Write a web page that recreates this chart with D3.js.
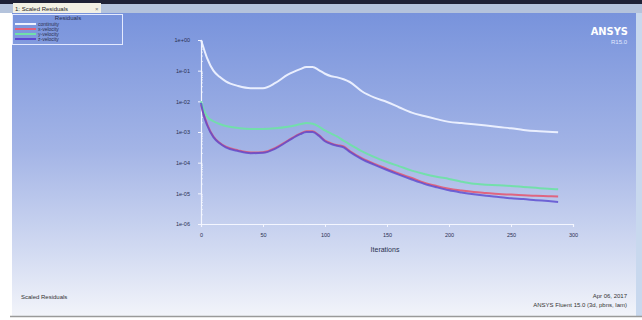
<!DOCTYPE html>
<html>
<head>
<meta charset="utf-8">
<script src="https://cdn.jsdelivr.net/npm/d3@7"></script>
<style>
  body { margin: 0; background: #fff; }
  svg { display: block; font-family: "Liberation Sans", Arial, sans-serif; }
</style>
</head>
<body>
<svg id="chart" width="642" height="320"></svg>
<script>
const iterations = [0, 2, 5, 10, 15, 20, 30, 40, 50, 60, 70, 80, 85, 90, 95, 100, 105, 110, 115, 120,
  130, 140, 150, 160, 170, 180, 190, 200, 210, 220, 230, 240, 250, 260, 270, 280, 288];

const continuity = [1.0, 0.562, 0.251, 0.1, 0.0631, 0.0447, 0.0316, 0.0269, 0.0269, 0.0398, 0.0741, 0.112,
  0.132, 0.132, 0.105, 0.0794, 0.0661, 0.0603, 0.0525, 0.0427, 0.0209, 0.0132, 0.00955, 0.00631, 0.00427,
  0.00331, 0.00263, 0.00214, 0.00195, 0.00178, 0.00162, 0.00145, 0.00132, 0.00117, 0.00107, 0.00102, 0.00098];

const xVelocity = [0.00794, 0.00398, 0.00178, 7.1e-4, 4.47e-4, 3.31e-4, 2.51e-4, 2.14e-4, 2.19e-4, 3.02e-4,
  5.25e-4, 8.9e-4, 1.05e-3, 1.05e-3, 7.9e-4, 5.25e-4, 4.27e-4, 3.72e-4, 3.39e-4, 2.4e-4, 1.38e-4, 9.1e-5,
  6.3e-5, 4.37e-5, 3.16e-5, 2.24e-5, 1.74e-5, 1.41e-5, 1.23e-5, 1.1e-5, 1.02e-5, 9.5e-6, 9.1e-6, 8.7e-6,
  8.3e-6, 8.1e-6, 7.9e-6];

const yVelocity = [0.01, 0.00562, 0.00316, 0.00224, 0.00182, 0.00158, 0.00135, 0.00126, 0.00126, 0.00132,
  0.00148, 0.00178, 0.00195, 0.00186, 0.00151, 0.00112, 8.9e-4, 7.1e-4, 5.2e-4, 3.98e-4, 2.34e-4, 1.51e-4,
  1.05e-4, 7.6e-5, 5.5e-5, 4.27e-5, 3.47e-5, 2.95e-5, 2.4e-5, 2.04e-5, 1.91e-5, 1.82e-5, 1.74e-5, 1.62e-5,
  1.51e-5, 1.41e-5, 1.35e-5];

const zVelocity = [0.0089, 0.0038, 0.00166, 6.8e-4, 4.27e-4, 3.16e-4, 2.4e-4, 2.04e-4, 2.09e-4, 2.88e-4,
  5.0e-4, 8.5e-4, 1.0e-3, 1.0e-3, 7.6e-4, 5.0e-4, 4.07e-4, 3.55e-4, 3.16e-4, 2.24e-4, 1.29e-4, 8.5e-5,
  5.75e-5, 3.98e-5, 2.82e-5, 2.04e-5, 1.58e-5, 1.26e-5, 1.07e-5, 9.3e-6, 8.3e-6, 7.6e-6, 6.9e-6, 6.5e-6,
  6.0e-6, 5.6e-6, 5.25e-6];

const seriesNames = ["continuity", "x-velocity", "y-velocity", "z-velocity"];
const seriesColors = ["#eef2ff", "#e0607a", "#70e0a8", "#5a48d0"];
const seriesValues = [continuity, xVelocity, yVelocity, zVelocity];

const xTicks = [0, 50, 100, 150, 200, 250, 300];
const yTicks = [1, 1e-1, 1e-2, 1e-3, 1e-4, 1e-5, 1e-6];
const yTickLabels = ["1e+00", "1e-01", "1e-02", "1e-03", "1e-04", "1e-05", "1e-06"];

const svg = d3.select("#chart");
const defs = svg.append("defs");

// panel background gradient
const grad = defs.append("linearGradient").attr("id", "bg")
  .attr("x1", 0).attr("y1", 0).attr("x2", 0).attr("y2", 1);
grad.append("stop").attr("offset", "0%").attr("stop-color", "#7893dc");
grad.append("stop").attr("offset", "45%").attr("stop-color", "#a3b4e6");
grad.append("stop").attr("offset", "80%").attr("stop-color", "#d4dcf2");
grad.append("stop").attr("offset", "100%").attr("stop-color", "#f2f4fa");

// window chrome
svg.append("rect").attr("x", 0).attr("y", 0).attr("width", 642).attr("height", 4).attr("fill", "#1f2236");
svg.append("rect").attr("x", 0).attr("y", 4).attr("width", 642).attr("height", 9).attr("fill", "#b4c3dc");
svg.append("rect").attr("x", 12).attr("y", 13).attr("width", 624).attr("height", 303).attr("fill", "url(#bg)");
svg.append("rect").attr("x", 636).attr("y", 13).attr("width", 6).attr("height", 303).attr("fill", "#c8d8ee");
svg.append("line").attr("x1", 10).attr("x2", 642).attr("y1", 316.5).attr("y2", 316.5)
  .attr("stroke", "#9a9a9a").attr("stroke-width", 1.5);

// tab
svg.append("rect").attr("x", 13).attr("y", 3).attr("width", 88).attr("height", 10).attr("fill", "#f2f0e4");
svg.append("text").attr("x", 15).attr("y", 10.5).attr("font-size", 6).attr("fill", "#222")
  .text("1: Scaled Residuals");
svg.append("text").attr("x", 95).attr("y", 10.5).attr("font-size", 6).attr("fill", "#777").text("×");

// scales
const x = d3.scaleLinear().domain([0, 300]).range([201, 573]);
const y = d3.scaleLog().domain([1e-6, 1]).range([224, 40]);

// axes
const xAxis = svg.append("g").attr("transform", "translate(0,224)")
  .call(d3.axisBottom(x).tickValues(xTicks).tickSize(3).tickPadding(6));
const yAxis = svg.append("g").attr("transform", "translate(201,0)")
  .call(d3.axisLeft(y).tickValues(yTicks).tickFormat((d, i) => yTickLabels[i]).tickSize(3).tickPadding(8));
[xAxis, yAxis].forEach(g => {
  g.select(".domain").attr("stroke", "#f4f6ff").attr("stroke-width", 1.2);
  g.selectAll(".tick line").attr("stroke", "#f4f6ff");
  g.selectAll(".tick text").attr("fill", "#2a3050").attr("font-size", 5.5)
    .attr("font-family", "Liberation Sans, Arial, sans-serif");
});

// minor log ticks on y axis
const minor = [];
for (let e = -6; e < 0; e++) for (let m = 2; m < 10; m++) minor.push(m * Math.pow(10, e));
svg.append("g").selectAll("line").data(minor).join("line")
  .attr("x1", 201).attr("x2", 203).attr("y1", d => y(d)).attr("y2", d => y(d))
  .attr("stroke", "#f4f6ff").attr("stroke-width", 0.7);

svg.append("text").attr("x", 385).attr("y", 252).attr("text-anchor", "middle")
  .attr("font-size", 7).attr("fill", "#2a3050").text("Iterations");

// residual curves
const line = d3.line().x((d, i) => x(iterations[i])).y(d => y(d)).curve(d3.curveMonotoneX);
svg.append("g").selectAll("path").data(seriesValues).join("path")
  .attr("d", d => line(d))
  .attr("fill", "none")
  .attr("stroke", (d, i) => seriesColors[i])
  .attr("stroke-width", 2)
  .attr("stroke-opacity", (d, i) => i === 3 ? 0.8 : 0.95);

// legend
const lg = svg.append("g");
lg.append("rect").attr("x", 12.5).attr("y", 14.5).attr("width", 110).attr("height", 30)
  .attr("fill", "none").attr("stroke", "#e4eaff").attr("stroke-width", 1);
lg.append("text").attr("x", 68).attr("y", 20).attr("text-anchor", "middle")
  .attr("font-size", 6).attr("fill", "#2a3050").text("Residuals");
seriesNames.forEach((name, i) => {
  const yy = 24 + i * 5;
  lg.append("line").attr("x1", 15).attr("x2", 36).attr("y1", yy).attr("y2", yy)
    .attr("stroke", seriesColors[i]).attr("stroke-width", 2);
  lg.append("text").attr("x", 38).attr("y", yy + 2).attr("font-size", 5)
    .attr("fill", "#2a3050").text(name);
});

// ANSYS logo text
svg.append("text").attr("x", 628).attr("y", 35).attr("text-anchor", "end")
  .attr("font-size", 11).attr("font-weight", "bold").attr("fill", "#ffffff")
  .attr("font-family", "DejaVu Sans Condensed, sans-serif").text("ANSYS");
svg.append("text").attr("x", 627).attr("y", 44).attr("text-anchor", "end")
  .attr("font-size", 6).attr("fill", "#e0e8ff").text("R15.0");

// footer texts
svg.append("text").attr("x", 21).attr("y", 299).attr("font-size", 6).attr("fill", "#333")
  .text("Scaled Residuals");
svg.append("text").attr("x", 627).attr("y", 298).attr("text-anchor", "end").attr("font-size", 6)
  .attr("fill", "#333").text("Apr 06, 2017");
svg.append("text").attr("x", 627).attr("y", 307).attr("text-anchor", "end").attr("font-size", 6)
  .attr("fill", "#333").text("ANSYS Fluent 15.0 (3d, pbns, lam)");
</script>
</body>
</html>
